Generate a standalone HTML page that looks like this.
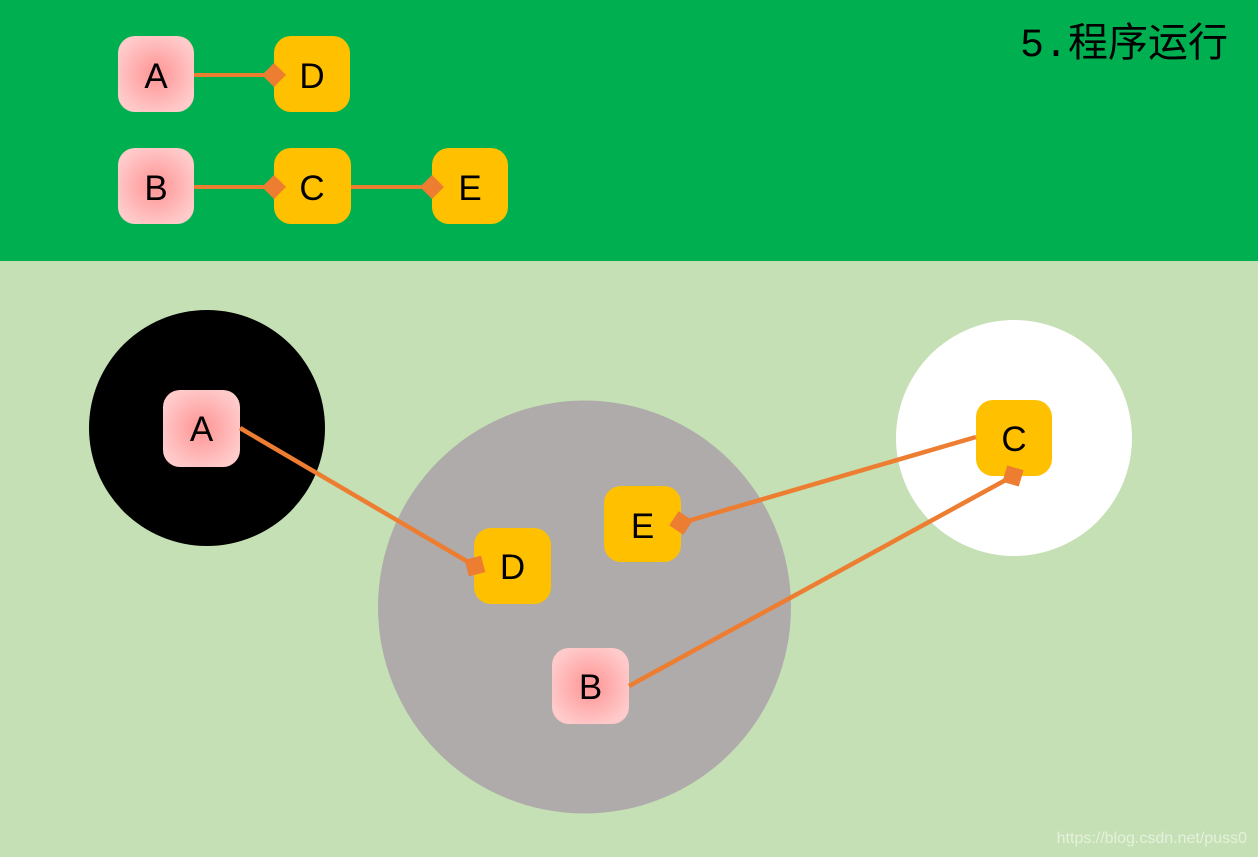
<!DOCTYPE html>
<html>
<head>
<meta charset="utf-8">
<style>
html,body{margin:0;padding:0;}
body{width:1258px;height:857px;overflow:hidden;background:#c5e0b4;}
svg{display:block;}
</style>
</head>
<body>
<svg width="1258" height="857" viewBox="0 0 1258 857" xmlns="http://www.w3.org/2000/svg">
  <defs>
    <radialGradient id="pk" cx="50%" cy="50%" r="55%">
      <stop offset="0%" stop-color="#ff9494"/>
      <stop offset="100%" stop-color="#ffcaca"/>
    </radialGradient>
  </defs>
  <!-- backgrounds -->
  <rect x="0" y="0" width="1258" height="261" fill="#00b050"/>
  <rect x="0" y="261" width="1258" height="596" fill="#c5e0b4"/>

  <!-- top section -->
  <g stroke="#ed7d31" stroke-width="4">
    <line x1="194" y1="75" x2="272" y2="75"/>
    <line x1="194" y1="187" x2="272" y2="187"/>
    <line x1="351" y1="187" x2="430" y2="187"/>
  </g>
  <rect x="118" y="36" width="76" height="76" rx="17" fill="url(#pk)"/>
  <rect x="274" y="36" width="76" height="76" rx="17" fill="#ffc000"/>
  <rect x="118" y="148" width="76" height="76" rx="17" fill="url(#pk)"/>
  <rect x="274" y="148" width="77" height="76" rx="17" fill="#ffc000"/>
  <rect x="432" y="148" width="76" height="76" rx="17" fill="#ffc000"/>
  <g fill="#ed7d31">
    <rect x="265.5" y="66.5" width="17" height="17" transform="rotate(45 274 75)"/>
    <rect x="265.5" y="178.5" width="17" height="17" transform="rotate(45 274 187)"/>
    <rect x="423.5" y="178.5" width="17" height="17" transform="rotate(45 432 187)"/>
  </g>
  <g font-family="'Liberation Sans', sans-serif" font-size="35" fill="#000" text-anchor="middle">
    <text x="156" y="88">A</text>
    <text x="312" y="88">D</text>
    <text x="156" y="200">B</text>
    <text x="312" y="200">C</text>
    <text x="470" y="200">E</text>
  </g>
  <text x="1020" y="56" font-size="40" fill="#000"><tspan font-family="'Liberation Mono', monospace">5.</tspan><tspan font-family="'Liberation Sans', 'Noto Sans CJK SC', sans-serif">程序运行</tspan></text>

  <!-- bottom section -->
  <circle cx="207" cy="428" r="118" fill="#000"/>
  <circle cx="1014" cy="438" r="118" fill="#ffffff"/>
  <circle cx="584.5" cy="607" r="206.5" fill="#afabab"/>

  <rect x="163" y="390" width="77" height="77" rx="17" fill="url(#pk)"/>
  <rect x="474" y="528" width="77" height="76" rx="17" fill="#ffc000"/>
  <rect x="604" y="486" width="77" height="76" rx="17" fill="#ffc000"/>
  <rect x="552" y="648" width="77" height="76" rx="17" fill="url(#pk)"/>
  <rect x="976" y="400" width="76" height="76" rx="17" fill="#ffc000"/>

  <g stroke="#ed7d31" stroke-width="4.5" stroke-linecap="butt">
    <line x1="240" y1="428" x2="475" y2="566"/>
    <line x1="976" y1="437" x2="681" y2="523"/>
    <line x1="629" y1="686" x2="1013" y2="476"/>
  </g>
  <g fill="#ed7d31">
    <rect x="466.5" y="557.5" width="17" height="17" transform="rotate(-14.6 475 566)"/>
    <rect x="672.5" y="514.5" width="17" height="17" transform="rotate(33.7 681 523)"/>
    <rect x="1004.5" y="467.5" width="17" height="17" transform="rotate(16.4 1013 476)"/>
  </g>
  <g font-family="'Liberation Sans', sans-serif" font-size="35" fill="#000" text-anchor="middle">
    <text x="201.5" y="441">A</text>
    <text x="512.5" y="579">D</text>
    <text x="642.5" y="538">E</text>
    <text x="590.5" y="699">B</text>
    <text x="1014" y="451">C</text>
  </g>

  <text x="1247" y="843" text-anchor="end" font-family="'Liberation Sans', sans-serif" font-size="16" fill="#ffffff" fill-opacity="0.55">https://blog.csdn.net/puss0</text>
</svg>
</body>
</html>
